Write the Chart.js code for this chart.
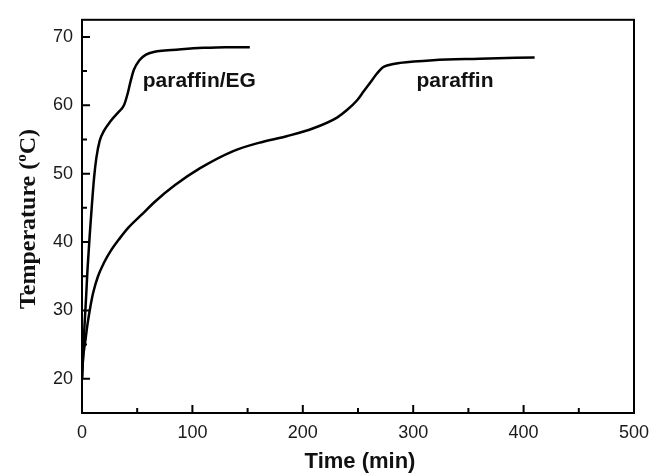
<!DOCTYPE html>
<html>
<head>
<meta charset="UTF-8">
<title>Temperature vs time</title>
<script src="https://cdn.jsdelivr.net/npm/chart.js@4"></script>
<style>
  html, body { margin: 0; padding: 0; background: #fff; }
  #wrap { width: 662px; height: 475px; }
</style>
</head>
<body>
<div id="wrap"><canvas id="chart"></canvas></div>
<script>
// paraffin/EG curve
const egTime = [0, 2, 3.6, 5, 7, 9, 11, 13, 16, 20, 26, 33, 38, 41, 44, 47, 52, 58, 65, 75, 90, 110, 130, 152];
const egTemp = [20, 27, 31.6, 36, 41, 45.5, 49.5, 52.3, 54.8, 56.3, 57.7, 59, 60, 61.5, 63.5, 65.2, 66.6, 67.4, 67.8, 68, 68.2, 68.4, 68.5, 68.5];
// paraffin curve
const parTime = [0, 1, 3, 5, 7, 10, 14.5, 20, 26, 34, 42, 54, 66, 84, 107, 137, 160, 186, 209, 231, 240, 249, 255, 261, 267, 272, 278, 288, 318, 360, 410];
const parTemp = [20, 23, 25.5, 28, 30, 32.5, 35, 37, 38.7, 40.5, 42.1, 44, 45.9, 48.3, 50.8, 53.3, 54.5, 55.5, 56.6, 58.2, 59.3, 60.7, 62, 63.3, 64.6, 65.5, 65.9, 66.2, 66.6, 66.8, 67];

const xTicks = [0, 100, 200, 300, 400, 500];
const xMinor = [50, 150, 250, 350, 450];
const yTicks = [20, 30, 40, 50, 60, 70];
const yMinor = [25, 35, 45, 55, 65];

const curveLabels = [
  { text: 'paraffin/EG', x: 55, y: 62.6 },
  { text: 'paraffin', x: 303, y: 62.6 }
];

function pts(xs, ys) {
  return xs.map((x, i) => ({ x: x, y: ys[i] }));
}

// frame, inward ticks, titles and curve labels
const decor = {
  id: 'decor',
  afterDraw(chart) {
    const ctx = chart.ctx;
    const a = chart.chartArea;
    const xs = chart.scales.x, ys = chart.scales.y;
    ctx.save();
    ctx.strokeStyle = '#000';
    ctx.lineWidth = 2;
    ctx.strokeRect(a.left, a.top, a.right - a.left, a.bottom - a.top);

    ctx.beginPath();
    xTicks.forEach(v => { const p = xs.getPixelForValue(v); ctx.moveTo(p, a.bottom); ctx.lineTo(p, a.bottom - 8); });
    xMinor.forEach(v => { const p = xs.getPixelForValue(v); ctx.moveTo(p, a.bottom); ctx.lineTo(p, a.bottom - 5); });
    yTicks.forEach(v => { const p = ys.getPixelForValue(v); ctx.moveTo(a.left, p); ctx.lineTo(a.left + 8, p); });
    yMinor.forEach(v => { const p = ys.getPixelForValue(v); ctx.moveTo(a.left, p); ctx.lineTo(a.left + 5, p); });
    ctx.stroke();

    ctx.fillStyle = '#111';
    // x title
    ctx.font = 'bold 22px "Liberation Sans", Arial, sans-serif';
    ctx.textAlign = 'center';
    ctx.textBaseline = 'middle';
    ctx.fillText('Time (min)', (a.left + a.right) / 2 + 2, 462);

    // y title with superscript o
    ctx.translate(27, 219);
    ctx.rotate(-Math.PI / 2);
    const big = 'bold 24px "Liberation Serif", "Times New Roman", serif';
    const small = 'bold 15px "Liberation Serif", "Times New Roman", serif';
    const parts = [['Temperature (', big, 0], ['o', small, -9], ['C)', big, 0]];
    let w = 0;
    parts.forEach(p => { ctx.font = p[1]; w += ctx.measureText(p[0]).width; });
    let cx = -w / 2;
    ctx.textAlign = 'left';
    ctx.textBaseline = 'alphabetic';
    parts.forEach(p => { ctx.font = p[1]; ctx.fillText(p[0], cx, 8 + p[2]); cx += ctx.measureText(p[0]).width; });
    ctx.setTransform(1, 0, 0, 1, 0, 0);

    // curve labels
    ctx.font = 'bold 21px "Liberation Sans", Arial, sans-serif';
    ctx.textAlign = 'left';
    ctx.textBaseline = 'alphabetic';
    curveLabels.forEach(l => ctx.fillText(l.text, xs.getPixelForValue(l.x), ys.getPixelForValue(l.y)));
    ctx.restore();
  }
};

new Chart(document.getElementById('chart'), {
  type: 'line',
  data: {
    datasets: [
      { label: 'paraffin/EG', data: pts(egTime, egTemp) },
      { label: 'paraffin', data: pts(parTime, parTemp) }
    ]
  },
  options: {
    responsive: true,
    maintainAspectRatio: false,
    animation: false,
    layout: { padding: { top: 11, right: 28, left: 0, bottom: 0 } },
    elements: {
      line: { borderColor: '#000', borderWidth: 2.5, cubicInterpolationMode: 'monotone', fill: false },
      point: { radius: 0 }
    },
    plugins: { legend: { display: false }, tooltip: { enabled: false } },
    scales: {
      x: {
        type: 'linear', min: 0, max: 500,
        afterBuildTicks: s => { s.ticks = xTicks.map(v => ({ value: v })); },
        afterFit: s => { s.height = 62; },
        grid: { display: false, drawTicks: false },
        border: { display: false },
        ticks: { padding: 9, color: '#1a1a1a', font: { family: '"Liberation Sans", Arial, sans-serif', size: 18 } }
      },
      y: {
        type: 'linear', min: 15, max: 72.5,
        afterBuildTicks: s => { s.ticks = yTicks.map(v => ({ value: v })); },
        afterFit: s => { s.width = 82; },
        grid: { display: false, drawTicks: false },
        border: { display: false },
        ticks: { padding: 9, color: '#1a1a1a', font: { family: '"Liberation Sans", Arial, sans-serif', size: 18 } }
      }
    }
  },
  plugins: [decor]
});
</script>
</body>
</html>
